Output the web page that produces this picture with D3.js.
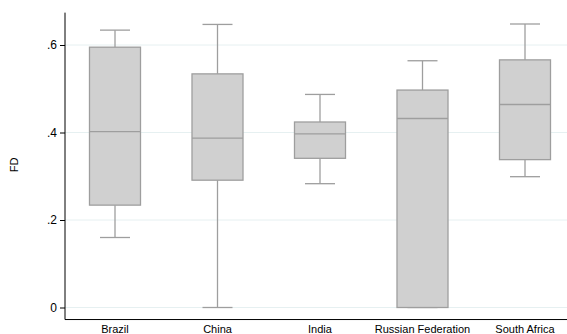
<!DOCTYPE html>
<html>
<head>
<meta charset="utf-8">
<script src="https://cdn.jsdelivr.net/npm/d3@7"></script>
<style>
  body { margin: 0; background: #fff; }
  svg { display: block; font-family: "Liberation Sans", Arial, sans-serif; }
</style>
</head>
<body>
<svg id="chart" width="567" height="334"></svg>
<script>
// data
var countries = ["Brazil", "China", "India", "Russian Federation", "South Africa"];
var whiskerLow = [0.160, 0.000, 0.283, 0.000, 0.299];
var q1 = [0.234, 0.291, 0.341, 0.000, 0.338];
var median = [0.402, 0.387, 0.397, 0.432, 0.464];
var q3 = [0.595, 0.534, 0.424, 0.497, 0.566];
var whiskerHigh = [0.634, 0.647, 0.487, 0.564, 0.648];
var yTicks = [0, 0.2, 0.4, 0.6];
var yTickLabels = ["0", ".2", ".4", ".6"];

var boxes = countries.map(function (c, i) {
    return { name: c, lo: whiskerLow[i], q1: q1[i], med: median[i], q3: q3[i], hi: whiskerHigh[i] };
});

var svg = d3.select("#chart");
var left = 65, right = 567;

var y = d3.scaleLinear().domain([0, 0.6]).range([307.5, 45]);
var x = d3.scalePoint().domain(countries).range([115, 525]);
var boxW = 51, capW = 30;
var yMin = -0.0275, yMax = 0.674;

// grid lines
svg.append("g").selectAll("line").data(yTicks).enter().append("line")
    .attr("x1", left).attr("x2", right)
    .attr("y1", function (d) { return y(d); }).attr("y2", function (d) { return y(d); })
    .attr("stroke", "#e6f0f1").attr("stroke-width", 1);

// y axis
var yAxis = d3.axisLeft(y).tickValues(yTicks)
    .tickFormat(function (d, i) { return yTickLabels[i]; })
    .tickSize(5).tickPadding(3);
var ga = svg.append("g").attr("transform", "translate(" + left + ",0)").call(yAxis);
ga.select(".domain").remove();
ga.selectAll(".tick line").attr("stroke", "#000");
ga.selectAll(".tick text").attr("font-size", 12).attr("fill", "#000")
    .style("font-family", "Liberation Sans, Arial, sans-serif");
svg.append("line").attr("x1", left).attr("x2", left)
    .attr("y1", y(yMax)).attr("y2", y(yMin)).attr("stroke", "#000");
// x axis line
svg.append("line").attr("x1", left).attr("x2", right)
    .attr("y1", y(yMin)).attr("y2", y(yMin)).attr("stroke", "#000");

svg.append("text").attr("transform", "translate(18," + 165 + ") rotate(-90)")
    .attr("text-anchor", "middle").attr("font-size", 11).text("FD");

// boxes
var g = svg.append("g").selectAll("g").data(boxes).enter().append("g");
var stroke = "#9e9e9e";
g.append("line").attr("x1", function (d) { return x(d.name); }).attr("x2", function (d) { return x(d.name); })
    .attr("y1", function (d) { return y(d.hi); }).attr("y2", function (d) { return y(d.q3); })
    .attr("stroke", stroke).attr("stroke-width", 1.3);
g.append("line").attr("x1", function (d) { return x(d.name); }).attr("x2", function (d) { return x(d.name); })
    .attr("y1", function (d) { return y(d.q1); }).attr("y2", function (d) { return y(d.lo); })
    .attr("stroke", stroke).attr("stroke-width", 1.3);
g.append("line").attr("x1", function (d) { return x(d.name) - capW / 2; }).attr("x2", function (d) { return x(d.name) + capW / 2; })
    .attr("y1", function (d) { return y(d.hi); }).attr("y2", function (d) { return y(d.hi); })
    .attr("stroke", stroke).attr("stroke-width", 1.3);
g.append("line").attr("x1", function (d) { return x(d.name) - capW / 2; }).attr("x2", function (d) { return x(d.name) + capW / 2; })
    .attr("y1", function (d) { return y(d.lo); }).attr("y2", function (d) { return y(d.lo); })
    .attr("stroke", stroke).attr("stroke-width", 1.3);
g.append("rect").attr("x", function (d) { return x(d.name) - boxW / 2; })
    .attr("width", boxW)
    .attr("y", function (d) { return y(d.q3); })
    .attr("height", function (d) { return y(d.q1) - y(d.q3); })
    .attr("fill", "#d0d0d0").attr("stroke", stroke).attr("stroke-width", 1.3);
g.append("line").attr("x1", function (d) { return x(d.name) - boxW / 2; }).attr("x2", function (d) { return x(d.name) + boxW / 2; })
    .attr("y1", function (d) { return y(d.med); }).attr("y2", function (d) { return y(d.med); })
    .attr("stroke", stroke).attr("stroke-width", 1.3);

// category labels
svg.append("g").selectAll("text").data(countries).enter().append("text")
    .attr("x", function (d) { return x(d); }).attr("y", 333)
    .attr("text-anchor", "middle").attr("font-size", 11).text(function (d) { return d; });
</script>
</body>
</html>
